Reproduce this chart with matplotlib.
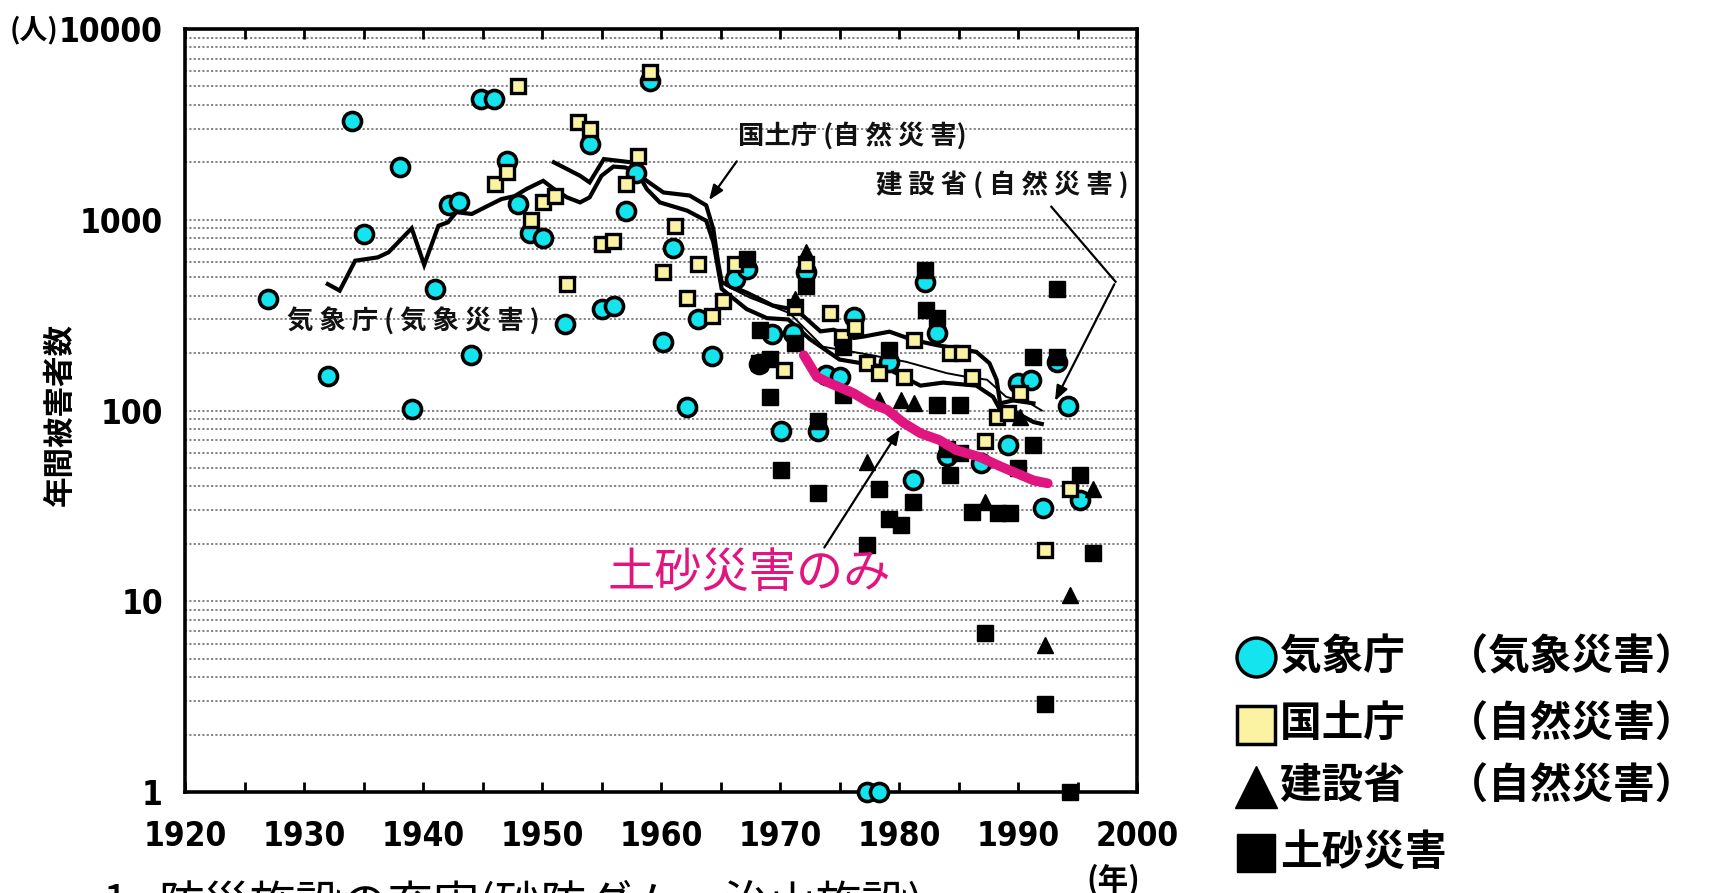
import matplotlib
matplotlib.use("Agg")
import matplotlib.pyplot as plt
from matplotlib.lines import Line2D
from matplotlib import font_manager as fm
from matplotlib.font_manager import FontProperties
import numpy as np

plt.rcParams['font.family'] = ['Noto Sans CJK JP', 'DejaVu Sans']

# ---------------- data ----------------
cyan_years = [1927.0, 1932.0, 1934.0, 1935.0, 1938.1, 1939.05, 1941.0, 1942.2, 1943.0, 1944.0,
              1944.9, 1946.0, 1947.1, 1948.0, 1949.0, 1950.1, 1951.9, 1954.0, 1955.0, 1956.05,
              1957.1, 1957.9, 1959.1, 1960.2, 1961.0, 1962.2, 1963.1, 1964.3, 1966.2, 1967.2,
              1968.2, 1969.3, 1970.1, 1971.1, 1972.2, 1973.2, 1973.9, 1975.0, 1976.2, 1977.3,
              1978.3, 1979.2, 1981.2, 1982.2, 1983.2, 1984.0, 1986.9, 1989.2, 1990.0, 1991.1,
              1992.1, 1993.25, 1994.2, 1995.2]
cyan_vals = [385, 151, 3305, 841, 1885, 102, 434, 1195, 1245, 195,
             4300, 4300, 2040, 1210, 853, 800, 284, 2495, 340, 352,
             1117, 1757, 5360, 228, 708, 104, 302, 192, 490, 552,
             175, 252, 78, 256, 530, 78, 153, 150, 310, 1,
             1, 180, 43, 473, 254, 58, 53, 66, 139, 145,
             31, 180, 105, 34]

yellow_years = [1946.05, 1947.1, 1948.0, 1949.1, 1950.1, 1951.1, 1952.1, 1953.05, 1954.0, 1955.0,
                1956.0, 1957.1, 1958.1, 1959.1, 1960.2, 1961.2, 1962.2, 1963.1, 1964.3, 1965.2,
                1966.2, 1970.3, 1971.3, 1972.2, 1974.2, 1975.2, 1976.3, 1977.3, 1978.3, 1980.4,
                1981.3, 1984.3, 1985.3, 1986.1, 1987.2, 1988.2, 1989.2, 1990.2, 1992.3, 1994.4]
yellow_vals = [1540, 1775, 5045, 1000, 1233, 1337, 460, 3245, 2990, 746,
               776, 1538, 2170, 5930, 535, 925, 387, 586, 314, 377,
               586, 163, 348, 586, 323, 244, 275, 177, 157, 150,
               234, 200, 200, 150, 69, 93, 97, 123, 18.5, 39]

black_years = [1967.2, 1968.3, 1968.2, 1969.2, 1969.2, 1970.1, 1971.3, 1972.2, 1973.2, 1973.2,
               1975.3, 1975.3, 1977.3, 1978.3, 1979.2, 1979.2, 1980.2, 1981.2, 1982.2, 1982.3,
               1983.2, 1983.2, 1984.0, 1984.3, 1985.1, 1985.1, 1986.1, 1987.2, 1988.3, 1989.3,
               1990.0, 1991.3, 1991.3, 1992.3, 1993.25, 1993.25, 1994.4, 1995.2, 1996.3]
black_vals = [620, 263, 177, 186, 117, 49, 225, 451, 88, 37,
              216, 120, 19.7, 39, 208, 27, 25, 33, 546, 336,
              305, 107, 63, 46, 107, 60, 29.5, 6.8, 29, 29,
              50, 191, 66, 2.9, 436, 190, 1, 46, 17.8]

tri_years = [1971.3, 1972.2, 1977.3, 1978.3, 1980.2, 1981.3, 1987.2, 1990.2, 1992.3, 1994.4, 1996.3]
tri_vals = [385, 675, 54, 113, 113, 109, 33, 93, 5.9, 10.8, 39]

kisho_years = [1932.0, 1933.0, 1934.3, 1936.2, 1937.1, 1939.05, 1940.1, 1941.3, 1942.1, 1942.8,
               1944.1, 1945.2, 1946.6, 1947.7, 1948.7, 1950.1, 1951.0, 1952.1, 1953.2, 1954.0,
               1955.0, 1956.0, 1957.0, 1958.0, 1958.8, 1959.9, 1962.2, 1963.8, 1964.4, 1964.8,
               1965.1, 1967.2, 1968.9, 1970.7, 1972.5, 1975.0, 1977.3, 1978.7, 1980.1, 1981.8,
               1983.7, 1986.5, 1987.9, 1988.5, 1989.9, 1991.3, 1992.0]
kisho_vals = [460, 425, 610, 635, 675, 902, 580, 930, 970, 1096,
              1072, 1162, 1284, 1330, 1450, 1600, 1450, 1310, 1233, 1310,
              1700, 1900, 1880, 1780, 1450, 1233, 1116, 988, 762, 552,
              434, 340, 305, 300, 237, 185, 175, 170, 153, 135,
              140, 135, 118, 101, 97, 87, 85]

kokudo_years = [1951.0, 1953.2, 1954.0, 1955.2, 1957.5, 1958.2, 1960.2, 1962.4, 1963.8, 1964.4,
                1964.8, 1965.1, 1967.2, 1969.4, 1971.4, 1973.4, 1974.5, 1976.2, 1977.0, 1979.2,
                1981.2, 1983.2, 1986.5, 1987.6, 1988.2, 1988.5, 1989.6, 1991.3]
kokudo_vals = [2000, 1700, 1570, 2080, 2000, 1700, 1390, 1340, 1190, 890,
               600, 470, 415, 355, 336, 260, 265, 240, 244, 259,
               234, 220, 203, 177, 145, 109, 113, 109]

kensetsu_years = [1965.5, 1967.5, 1970.8, 1973.6, 1977.3, 1980.6, 1984.0, 1985.7, 1987.4, 1989.0, 1991.0, 1992.0]
kensetsu_vals = [450, 390, 324, 216, 197, 180, 157, 150, 145, 118, 109, 100]

dosha_years = [1972.0, 1973.1, 1974.2, 1976.2, 1977.6, 1979.0, 1980.4, 1981.8, 1983.4, 1984.8,
               1986.8, 1988.5, 1991.3, 1992.5]
dosha_vals = [195, 150, 139, 123, 109, 101, 86, 76, 70, 62, 57, 51, 43, 41.5]

x_ticks = [1920, 1930, 1940, 1950, 1960, 1970, 1980, 1990, 2000]
y_ticks = [1, 10, 100, 1000, 10000]
y_ticklabels = ['1', '10', '100', '1000', '10000']

legend_labels = ['気象庁　（気象災害）', '国土庁　（自然災害）', '建設省　（自然災害）', '土砂災害']


# ---------------- narrow bold font for numbers ----------------
def pick_narrow_font(size):
    best = None
    for f in fm.fontManager.ttflist:
        nm = f.name.lower()
        narrow = ('narrow' in nm or 'condensed' in nm or
                  str(f.stretch) in ('condensed', 'semi-condensed', 'extra-condensed'))
        if not narrow:
            continue
        w = f.weight if isinstance(f.weight, int) else (700 if 'bold' in str(f.weight) else 400)
        style_ok = str(f.style) == 'normal'
        score = (w >= 600) * 2 + style_ok
        if best is None or score > best[0]:
            best = (score, f.fname)
    if best is not None:
        return FontProperties(fname=best[1], size=size), True
    return FontProperties(family='Liberation Sans', weight='bold', size=size - 3), False


num_fp, found_narrow = pick_narrow_font(24)

# ---------------- figure ----------------
W, H = 1709, 893
fig = plt.figure(figsize=(W / 100, H / 100), dpi=100)
ax = fig.add_axes([185 / W, 1 - 792 / H, (1137 - 185) / W, (792 - 29) / H])
ax.set_yscale('log')
ax.set_xlim(1920, 2000)
ax.set_ylim(1, 10000)

# dotted horizontal grid at minor log positions
for dec in [1, 10, 100, 1000]:
    for m in range(2, 11):
        v = dec * m
        if v >= 10000:
            continue
        ax.axhline(v, color='#333333', lw=1.2, ls=(0, (1.3, 1.3)), alpha=0.7, zorder=1)

ax.set_xticks(x_ticks)
ax.set_xticklabels([str(t) for t in x_ticks])
ax.set_xticks(np.arange(1920, 2001, 5), minor=True)
ax.set_yticks(y_ticks)
ax.set_yticklabels(y_ticklabels)
ax.yaxis.set_minor_locator(matplotlib.ticker.NullLocator())
for lbl in ax.get_xticklabels() + ax.get_yticklabels():
    lbl.set_fontproperties(num_fp)
    if not found_narrow:
        lbl.set_fontweight('bold')
ax.tick_params(axis='x', which='both', direction='in', top=True, bottom=True, length=7, width=2, pad=20)
ax.tick_params(axis='y', which='both', length=0, pad=16)
for s in ax.spines.values():
    s.set_linewidth(2.6)
    s.set_color('black')

# lines
ax.plot(kisho_years, kisho_vals, color='black', lw=3.0, zorder=2, solid_joinstyle='miter')
ax.plot(kokudo_years, kokudo_vals, color='black', lw=3.0, zorder=2, solid_joinstyle='miter')
ax.plot(kensetsu_years, kensetsu_vals, color='black', lw=1.4, zorder=2)

# markers
cyan = '#14E4EE'
yellow = '#FBF2A2'
ax.plot(cyan_years, cyan_vals, 'o', ms=13, mfc=cyan, mec='black', mew=2.6, ls='none', zorder=3, clip_on=False)
ax.plot(yellow_years, yellow_vals, 's', ms=10, mfc=yellow, mec='black', mew=2.4, ls='none', zorder=4, clip_on=False)
ax.plot(black_years, black_vals, 's', ms=11, mfc='black', mec='black', mew=1, ls='none', zorder=5, clip_on=False)
ax.plot(tri_years, tri_vals, '^', ms=12, mfc='black', mec='black', mew=1, ls='none', zorder=5, clip_on=False)

# magenta line
ax.plot(dosha_years, dosha_vals, color='#E0157F', lw=7, solid_capstyle='round', zorder=6)

# annotations
jp_bold = dict(fontweight='bold', color='#111111')
arrow_kw = dict(arrowstyle='-|>,head_length=0.9,head_width=0.35', color='black', lw=1.6)
ax.text(1939.2, 291, '気 象 庁 ( 気 象 災 害 )', fontsize=19, ha='center', va='center', zorder=7, **jp_bold)
ax.text(1976.1, 2750, '国土庁 (自 然 災 害)', fontsize=19, ha='center', va='center', zorder=7, **jp_bold)
ax.annotate('', xy=(1963.9, 1233), xytext=(1966.5, 2080), arrowprops=arrow_kw)
ax.text(1988.7, 1520, '建 設 省 ( 自 然 災 害 )', fontsize=19, ha='center', va='center', zorder=7, **jp_bold)
ax.plot([1992.8, 1998.2], [1170, 473], color='black', lw=1.6, zorder=7)
ax.annotate('', xy=(1993.0, 109), xytext=(1998.2, 473), arrowprops=arrow_kw)
ax.text(1967.4, 13.9, '土砂災害のみ', fontsize=34, ha='center', va='center', color='#E0157F', zorder=7)
ax.annotate('', xy=(1980.2, 82), xytext=(1973.6, 18.6), arrowprops=arrow_kw)

# axis labels / extra text
fig.canvas.draw()
top_lbl = ax.get_yticklabels()[-1]
bb = top_lbl.get_window_extent(fig.canvas.get_renderer())
fig.text((bb.x0 - 1) / W, 1 - 30 / H, '(人)', fontsize=20, fontweight='bold', ha='right', va='center')
fig.text(60 / W, 1 - 414 / H, '年間被害者数', fontsize=22, fontweight='bold', rotation=90,
         ha='center', va='center')
fig.text(1113 / W, 1 - 880 / H, '(年)', fontsize=22, fontweight='bold', ha='center', va='center')
fig.text(103 / W, 1 - 881 / H, '1', fontsize=33, ha='left', va='top')
fig.text(158 / W, 1 - 881 / H, '防災施設の充実(砂防ダム、治山施設)', fontsize=33, ha='left', va='top')

# legend (drawn manually)
rows_y = [657, 725, 787, 853]
marker_specs = [dict(marker='o', ms=28, mfc=cyan, mec='black', mew=2.5),
                dict(marker='s', ms=27, mfc=yellow, mec='black', mew=2.5),
                dict(marker='^', ms=30, mfc='black', mec='black', mew=1),
                dict(marker='s', ms=27, mfc='black', mec='black', mew=1)]
for yy, spec, lab in zip(rows_y, marker_specs, legend_labels):
    fy = 1 - yy / H
    fig.add_artist(Line2D([1256 / W], [fy], transform=fig.transFigure, ls='none', **spec))
    fig.text(1280 / W, fy, lab, fontsize=30, fontweight='bold', ha='left', va='center')

fig.savefig('out.png', dpi=100)
